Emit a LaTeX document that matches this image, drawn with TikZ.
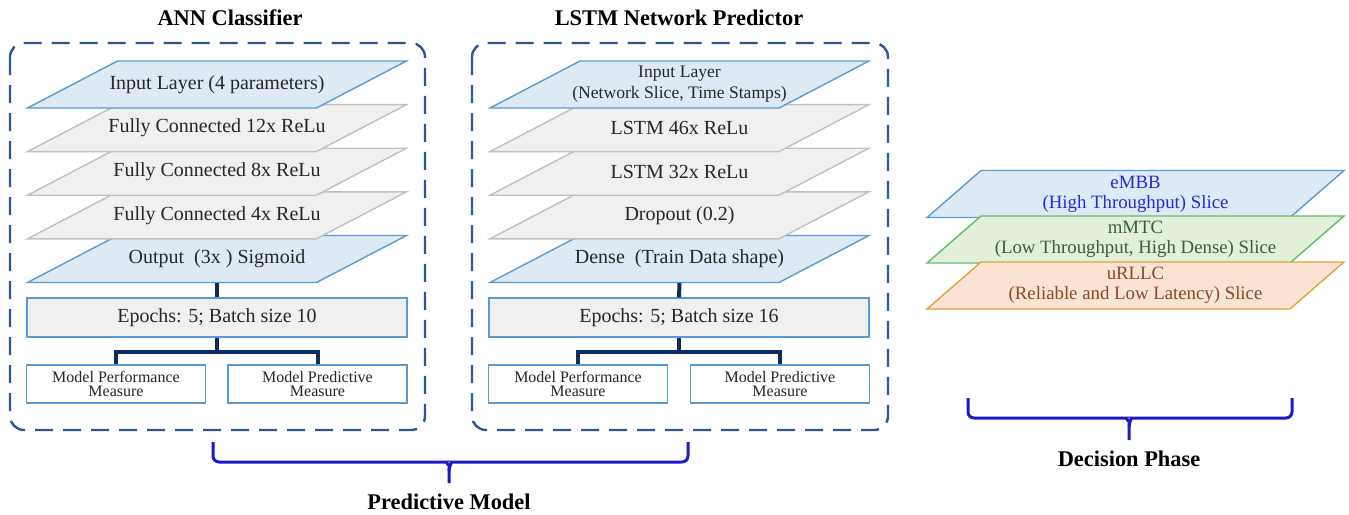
\documentclass[tikz,border=0pt]{standalone}
\usepackage{fontspec}
\setmainfont{Liberation Serif}
\usetikzlibrary{positioning}
\definecolor{panelblue}{HTML}{2F5597}
\definecolor{bluefill}{HTML}{DDEAF6}
\definecolor{bluedraw}{HTML}{5B9BD5}
\definecolor{grayfill}{HTML}{F0F0F0}
\definecolor{graydraw}{HTML}{C0C0C0}
\definecolor{textgray}{HTML}{262626}
\definecolor{navy}{HTML}{0F2A5E}
\definecolor{braceblue}{HTML}{1A1ACC}
\definecolor{greenfill}{HTML}{E2F0D9}
\definecolor{greendraw}{HTML}{5CBF70}
\definecolor{greentext}{HTML}{3D5C3D}
\definecolor{orangefill}{HTML}{FBE3D4}
\definecolor{orangedraw}{HTML}{DDA43A}
\definecolor{browntext}{HTML}{8B4A2B}
\definecolor{embbtext}{HTML}{2B2BC8}
\tikzset{
  panel/.style={draw=panelblue,line width=1.2pt,dash pattern=on 9pt off 5pt,rounded corners=7pt},
  title/.style={font=\fontsize{11.2}{13}\selectfont\bfseries},
  nn slab/.style={fill=grayfill,draw=graydraw,line width=0.7pt},
  nn txt/.style={text=textgray,font=\fontsize{10}{12}\selectfont},
  nnio slab/.style={fill=bluefill,draw=bluedraw,line width=0.7pt},
  nnio txt/.style={nn txt},
  nnin slab/.style={nnio slab},
  nnin txt/.style={text=textgray,font=\fontsize{8.8}{10.5}\selectfont},
  embb slab/.style={fill=bluefill,draw=bluedraw,line width=0.7pt},
  embb txt/.style={text=embbtext,font=\fontsize{9.4}{10}\selectfont},
  mmtc slab/.style={fill=greenfill,draw=greendraw,line width=0.7pt},
  mmtc txt/.style={text=greentext,font=\fontsize{9.4}{10}\selectfont},
  urllc slab/.style={fill=orangefill,draw=orangedraw,line width=0.7pt},
  urllc txt/.style={text=browntext,font=\fontsize{9.4}{10}\selectfont},
  epoch/.style={draw=bluedraw,fill=grayfill,line width=0.7pt,minimum width=190pt,minimum height=19.5pt,inner sep=0pt,text=textgray,font=\fontsize{10}{12}\selectfont},
  measure/.style={draw=bluedraw,fill=white,line width=0.7pt,minimum width=89.5pt,minimum height=19pt,inner sep=0pt,align=center,text=textgray,font=\fontsize{8}{6.6}\selectfont},
  link/.style={draw=navy,line width=2pt},
  brace/.style={draw=braceblue,line width=1.5pt,rounded corners=3pt}
}
\newcommand\Slab[7]{%
  \filldraw[#6 slab] (#2-#4/2+#5/2,#3-23.5) -- ++(#4,0) -- ++(-#5,47) -- ++(-#4,0) -- cycle;
  \node[#6 txt,align=center,inner sep=0pt,minimum height=23.5pt] (#1) at (#2,#3) {#7};}

\begin{document}
\begin{tikzpicture}[x=0.5pt,y=-0.5pt]
\useasboundingbox (0,0) rectangle (1349,514);
\node[title] (anntitle) at (230,18) {ANN Classifier};
\node[title] (lstmtitle) at (679,18) {LSTM Network Predictor};
\draw[panel] (10,43) rectangle (425,430);
\draw[panel] (472,43) rectangle (888,430);
\Slab{ann5}{217}{259}{289}{90}{nnio}{Output\ \ (3x ) Sigmoid}
\Slab{ann4}{217}{215.3}{289}{90}{nn}{Fully Connected 4x ReLu}
\Slab{ann3}{217}{171.7}{289}{90}{nn}{Fully Connected 8x ReLu}
\Slab{ann2}{217}{128.1}{289}{90}{nn}{Fully Connected 12x ReLu}
\Slab{ann1}{217}{84.5}{289}{90}{nnio}{Input Layer (4 parameters)}
\Slab{lstm5}{679.5}{259}{289}{90}{nnio}{Dense\ \ (Train Data shape)}
\Slab{lstm4}{679.5}{215.3}{289}{90}{nn}{Dropout (0.2)}
\Slab{lstm3}{679.5}{171.7}{289}{90}{nn}{LSTM 32x ReLu}
\Slab{lstm2}{679.5}{128.1}{289}{90}{nn}{LSTM 46x ReLu}
\Slab{lstm1}{679.5}{84.5}{289}{90}{nnin}{Input Layer\\(Network Slice, Time Stamps)}
\node[epoch] (annep) at (217,317.5) {Epochs: 5; Batch size 10};
\node[epoch] (lstmep) at (679,317.5) {Epochs: 5; Batch size 16};
\node[measure] (annperf) at (116,384) {Model Performance\\Measure};
\node[measure] (annpred) at (317.5,384) {Model Predictive\\Measure};
\node[measure] (lstmperf) at (578,384) {Model Performance\\Measure};
\node[measure] (lstmpred) at (780,384) {Model Predictive\\Measure};
\draw[link] (ann5.south) -- (annep.north);
\draw[link] (annep.south) -- ++(0,14) -| (annperf.north) (annep.south) ++(0,14) -| (annpred.north);
\draw[link] (lstm5.south) -- (lstmep.north);
\draw[link] (lstmep.south) -- ++(0,14) -| (lstmperf.north) (lstmep.south) ++(0,14) -| (lstmpred.north);
\Slab{embb}{1135.5}{194}{363}{54}{embb}{eMBB\\(High Throughput) Slice}
\Slab{mmtc}{1135.5}{239.5}{363}{54}{mmtc}{mMTC\\(Low Throughput, High Dense) Slice}
\Slab{urllc}{1135.5}{285.5}{363}{54}{urllc}{uRLLC\\(Reliable and Low Latency) Slice}
\draw[brace] (213,442) |- (441,462) to[out=0,in=90] (449,471) -- (449,483) coordinate (predtip);
\draw[brace] (688,442) |- (457,462) to[out=180,in=90] (449,471);
\node[title,below=2pt of predtip] (predlabel) {Predictive Model};
\draw[brace] (968,398) |- (1121,418) to[out=0,in=90] (1129,427) -- (1129,440) coordinate (dectip);
\draw[brace] (1292,398) |- (1137,418) to[out=180,in=90] (1129,427);
\node[title,below=2pt of dectip] (declabel) {Decision Phase};
\end{tikzpicture}
\end{document}
